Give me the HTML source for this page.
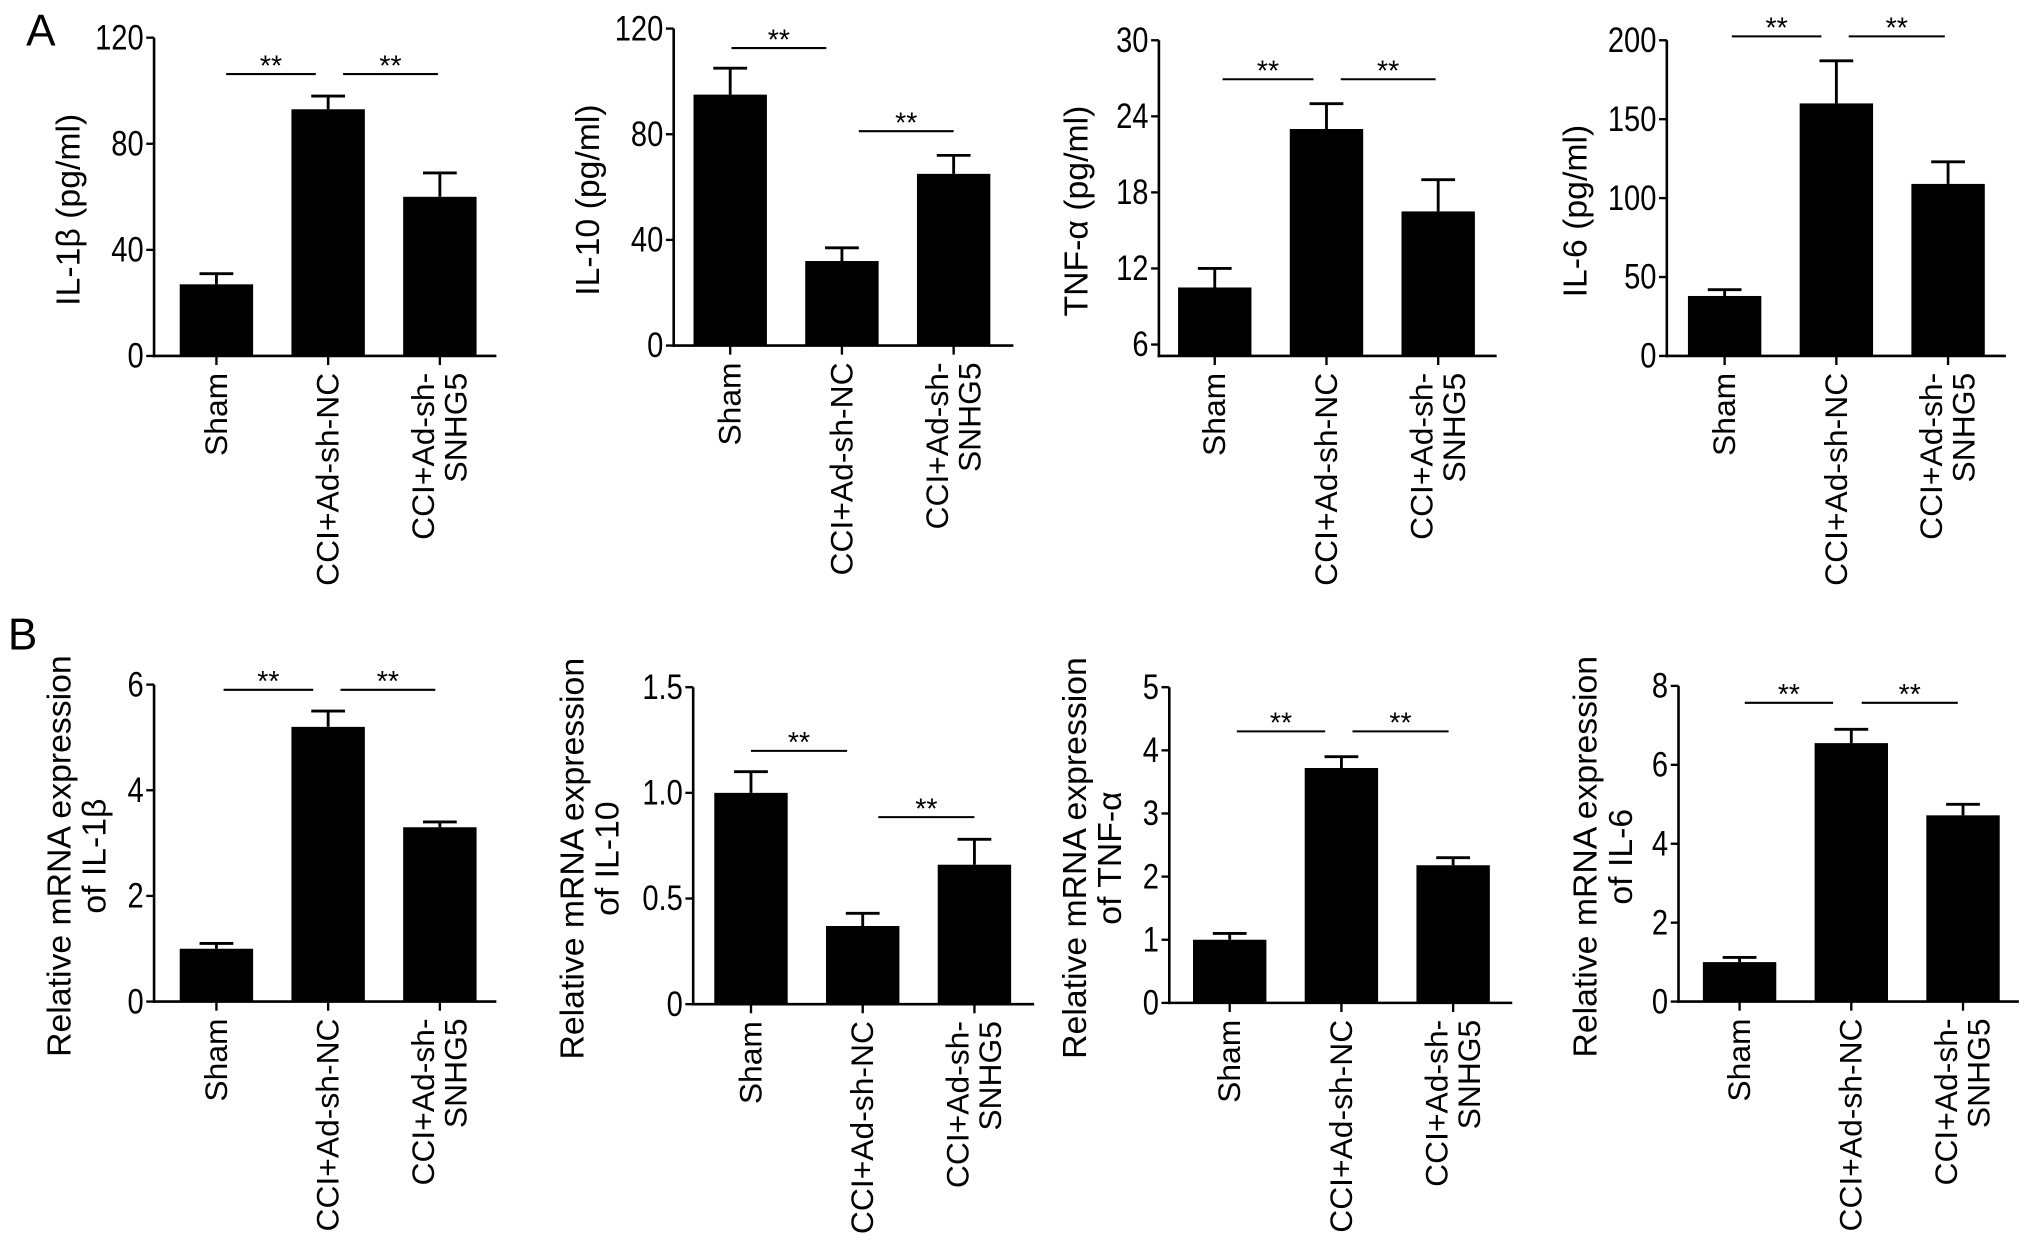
<!DOCTYPE html>
<html><head><meta charset="utf-8"><style>
html,body{margin:0;padding:0;background:#fff;}
svg{display:block;}
text{font-family:"Liberation Sans",Arial,sans-serif;fill:#000;}
</style></head><body>
<svg id="fig" width="2032" height="1251" viewBox="0 0 1564 963" xmlns="http://www.w3.org/2000/svg">
<rect width="1564" height="963" fill="#fff"/>
<text x="20" y="35" font-size="34">A</text>
<text x="6" y="500" font-size="34">B</text>
</svg>
<script>
const categories = ["Sham", "CCI+Ad-sh-NC", "CCI+Ad-sh-SNHG5"];
const a1Values = [27, 93, 60];   const a1Errors = [31, 98, 69];   const a1Ticks = [0, 40, 80, 120];
const a2Values = [95, 32, 65];   const a2Errors = [105, 37, 72];  const a2Ticks = [0, 40, 80, 120];
const a3Values = [10.5, 23, 16.5]; const a3Errors = [12, 25, 19]; const a3Ticks = [6, 12, 18, 24, 30];
const a4Values = [38, 160, 109]; const a4Errors = [42, 187, 123]; const a4Ticks = [0, 50, 100, 150, 200];
const b1Values = [1.0, 5.2, 3.3];   const b1Errors = [1.1, 5.5, 3.4];   const b1Ticks = [0, 2, 4, 6];
const b2Values = [1.0, 0.37, 0.66]; const b2Errors = [1.1, 0.43, 0.78]; const b2Ticks = ["0", "0.5", "1.0", "1.5"];
const b3Values = [1.0, 3.72, 2.18]; const b3Errors = [1.1, 3.9, 2.3];   const b3Ticks = [0, 1, 2, 3, 4, 5];
const b4Values = [1.0, 6.55, 4.72]; const b4Errors = [1.12, 6.9, 5.0];  const b4Ticks = [0, 2, 4, 6, 8];

const NS = "http://www.w3.org/2000/svg";
const svg = document.getElementById("fig");
function mk(tag, attrs, parent){ const e=document.createElementNS(NS,tag); for(const k in attrs) e.setAttribute(k,attrs[k]); (parent||svg).appendChild(e); return e; }

const charts = [
 {id:"a1", vals:a1Values, errs:a1Errors, ticks:a1Ticks, min:0, max:120, ax:118.5, y0:274, yTop:29, x0:166.5, end:382, title:["IL-1β (pg/ml)"], tx:52, sig:[[174,243,57],[264,337,57]]},
 {id:"a2", vals:a2Values, errs:a2Errors, ticks:a2Ticks, min:0, max:120, ax:518.5, y0:266, yTop:22, x0:562, end:780, title:["IL-10 (pg/ml)"], tx:452, sig:[[563,636,37],[661,734,101]]},
 {id:"a3", vals:a3Values, errs:a3Errors, ticks:a3Ticks, min:5.1, max:30, ax:892, y0:274, yTop:31, x0:935, end:1152, title:["TNF-α (pg/ml)"], tx:828, sig:[[941,1011,61],[1032,1105,61]]},
 {id:"a4", vals:a4Values, errs:a4Errors, ticks:a4Ticks, min:0, max:200, ax:1283, y0:274, yTop:31, x0:1327.5, end:1544, title:["IL-6 (pg/ml)"], tx:1212, sig:[[1333,1402,28],[1423,1497,28]]},
 {id:"b1", vals:b1Values, errs:b1Errors, ticks:b1Ticks, min:0, max:6, ax:118.5, y0:771, yTop:527, x0:166.5, end:382, title:["Relative mRNA expression","of IL-1β"], tx:45, sig:[[172,241,531],[262,335,531]]},
 {id:"b2", vals:b2Values, errs:b2Errors, ticks:b2Ticks, min:0, max:1.5, ax:533.5, y0:773, yTop:529, x0:578, end:796, title:["Relative mRNA expression","of IL-10"], tx:440, sig:[[578,652,578],[676,750,629]]},
 {id:"b3", vals:b3Values, errs:b3Errors, ticks:b3Ticks, min:0, max:5, ax:900, y0:772, yTop:529, x0:946.5, end:1164, title:["Relative mRNA expression","of TNF-α"], tx:827, sig:[[952,1020,563],[1041,1115,563]]},
 {id:"b4", vals:b4Values, errs:b4Errors, ticks:b4Ticks, min:0, max:8, ax:1292, y0:771, yTop:528, x0:1339, end:1554, title:["Relative mRNA expression","of IL-6"], tx:1220, sig:[[1343,1411,541],[1433,1507,541]]}
];
const step = 86, bw = 56.5, cap = 13;

charts.forEach(c=>{
  const g = mk("g",{});
  
  
  const y = v => c.y0 - (v - c.min)/(c.max - c.min)*(c.y0 - c.yTop);
  c.vals.forEach((v,i)=>{
    const cx = c.x0 + i*step;
    const e = mk("line",{x1:cx,x2:cx,y1:y(v),y2:y(c.errs[i]),stroke:"#000","stroke-width":2.2},g);
    
    
    const cp = mk("line",{x1:cx-cap,x2:cx+cap,y1:y(c.errs[i]),y2:y(c.errs[i]),stroke:"#000","stroke-width":2.2},g);
    
    
    const b = mk("rect",{x:cx-bw/2,y:y(v),width:bw,height:c.y0-y(v),fill:"#000"},g);
    
    
    mk("line",{x1:cx,x2:cx,y1:c.y0,y2:c.y0+7,stroke:"#000","stroke-width":1.8},g);
    const lines = categories[i]==="CCI+Ad-sh-SNHG5" ? ["CCI+Ad-sh-","SNHG5"] : [categories[i]];
    lines.forEach((ln,j)=>{
      const lx = cx + 8 + (j - (lines.length-1)/2)*25;
      const t = mk("text",{x:0,y:0,"font-size":24.5,"text-anchor":"end",transform:`translate(${lx},${c.y0+13}) rotate(-90)`},g);
      t.textContent = ln;
      
      
    });
  });
  const ya = mk("line",{x1:c.ax,x2:c.ax,y1:c.yTop,y2:c.y0+1,stroke:"#000","stroke-width":2},g);
  
  
  const xa = mk("line",{x1:c.ax-1,x2:c.end,y1:c.y0,y2:c.y0,stroke:"#000","stroke-width":2},g);
  
  
  c.ticks.forEach(tk=>{
    const ty = y(parseFloat(tk));
    mk("line",{x1:c.ax-6,x2:c.ax,y1:ty,y2:ty,stroke:"#000","stroke-width":1.8},g);
    const t = mk("text",{x:c.ax-8,y:ty+9,"font-size":27,"text-anchor":"end",transform:`translate(${(c.ax-8)*0.17},0) scale(0.83,1)`},g);
    t.textContent = tk;
    
    
  });
  const my = (c.y0 + c.yTop)/2;
  c.title.forEach((ln,j)=>{
    const t = mk("text",{x:0,y:0,"font-size":26,"text-anchor":"middle",transform:`translate(${c.tx + 9 + j*27},${my+10}) rotate(-90)`},g);
    t.textContent = ln;
    
    
  });
  c.sig.forEach(s=>{
    const l = mk("line",{x1:s[0],x2:s[1],y1:s[2],y2:s[2],stroke:"#000","stroke-width":1.6},g);
    
    
    const t = mk("text",{x:(s[0]+s[1])/2,y:s[2]+1,"font-size":22,"text-anchor":"middle"},g);
    t.textContent = "**";
    
    
  });
});
</script>
</body></html>
